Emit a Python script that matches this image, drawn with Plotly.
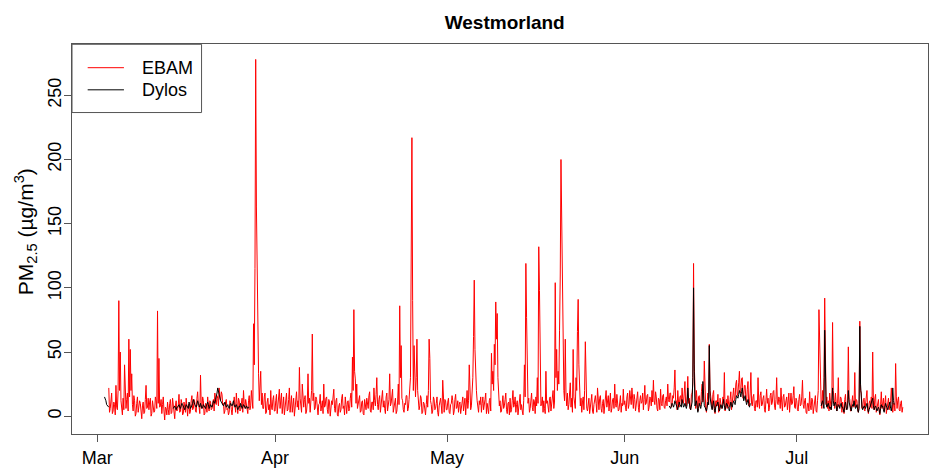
import pandas as pd
import plotly.graph_objects as go

# ---------------- data ----------------
month_labels = ["Mar", "Apr", "May", "Jun", "Jul"]
month_starts = ["2015-03-01", "2015-04-01", "2015-05-01", "2015-06-01", "2015-07-01"]
y_ticks = [0, 50, 100, 150, 200, 250]

# EBAM PM2.5, 3-hourly (8 values per day), starting 3 March 00:00
ebam_start = "2015-03-03 00:00"
ebam_mar = [
    22, 3, 6, 14, 18, 2, 4, 11,
    9, 1, 24, 7, 5, 20, 90, 20,
    50, 12, 8, 1, 14, 5, 40, 10,
    6, 13, 18, 4, 60, 15, 52, 20,
    33, 9, 4, 16, 12, 0, 2, 10,
    15, 3, 6, 12, 10, 1, -2, 8,
    11, 2, 3, 13, 24, 6, 7, 14,
    5, 11, 14, 0, 2, 12, 9, 3,
    4, 15, 12, 6, 82, 10, 45, 7,
    8, 13, 2, 9, 15, 4, -3, 7,
    6, 1, 11, 5, 1, 10, 13, 2,
    3, 14, 9, 2, -2, 8, 12, 4,
    5, 9, 17, 3, 4, 13, 10, 1,
    2, 11, 8, 3, 14, 6, 0, 9,
    9, 2, 4, 12, 16, 5, 6, 13,
    11, 4, 3, 14, 19, 8, 7, 2,
    32, 9, 6, 15, 12, 1, 2, 10,
    8, 3, 15, 7, 4, 12, 11, 5,
    6, 10, 13, 4, 18, 11, 9, 16,
    14, 8, 22, 15, 12, 19, 17, 9,
    10, 2, 4, 11, 13, 5, 6, 1,
    3, 12, 11, 5, 1, 8, 9, 15,
    7, 3, 18, 9, 2, 14, 12, 4,
    5, 10, 14, 3, 20, 9, 6, 13,
    10, 4, 2, 12, 16, 5, 8, 20,
    10, 6, 72, 40, 115, 278, 163, 100,
    60, 33, 12, 20, 35, 9, 18, 6,
    6, 15, 18, 2, 3, 11, 14, 5,
    9, 1, 20, 7, 5, 13, 16, 4,
]
ebam_apr = [
    4, 12, 17, 2, 8, 15, 21, 6,
    11, 18, 2, 9, 15, 1, 7, 14,
    18, 4, 5, 13, 22, 3, 9, 16,
    3, 10, 14, 0, 6, 17, 19, 7,
    12, 5, 38, 14, 10, 3, 25, 8,
    7, 13, 16, 2, 4, 11, 33, 10,
    14, 3, 9, 20, 64, 12, 18, 5,
    6, 15, 13, 4, 1, 9, 10, 17,
    4, 8, 12, 2, 25, 7, 8, 14,
    15, 5, 2, 13, 11, 0, 6, 12,
    9, 16, 21, 6, 3, 12, 14, 1,
    0, 8, 10, 3, 5, 14, 17, 6,
    8, 1, 15, 9, 2, 11, 12, 4,
    6, 14, 18, 7, 46, 20, 83, 35,
    29, 10, 25, 6, 9, 15, 16, 3,
    4, 11, 12, 2, 1, 13, 10, 5,
    14, 8, 6, 16, 19, 4, 3, 11,
    11, 5, 22, 12, 8, 17, 30, 9,
    5, 13, 16, 3, 9, 14, 20, 7,
    12, 6, 2, 15, 18, 4, 7, 13,
    33, 8, 10, 17, 21, 3, 6, 12,
    14, 2, 4, 11, 25, 9, 86, 30,
    55, 14, 12, 5, 3, 10, 9, 16,
    16, 4, 6, 13, 20, 30, 124, 217,
    90, 20, 55, 40, 15, 30, 60, 20,
    10, 5, 8, 16, 14, 2, 3, 11,
    10, 4, 1, 9, 16, 7, 20, 60,
    45, 12, 9, 2, 4, 15, 13, 5,
    6, 10, 15, 3, 0, 8, 11, 14,
    8, 2, 28, 9, 3, 13, 12, 5,
]
ebam_may = [
    5, 11, 14, 3, 2, 9, 10, 16,
    12, 1, 4, 13, 17, 6, 7, 12,
    3, 9, 11, 2, 6, 14, 15, 4,
    9, 14, 1, 8, 20, 6, 12, 40,
    14, 5, 8, 20, 30, 62, 106, 52,
    30, 20, 12, 6, 3, 12, 9, 15,
    3, 10, 15, 5, 8, 13, 18, 2,
    10, 6, 2, 12, 14, 4, 49, 25,
    35, 20, 56, 40, 89, 60, 80, 30,
    14, 8, 12, 3, 4, 11, 16, 6,
    8, 13, 18, 5, 2, 10, 11, 1,
    14, 3, 5, 12, 20, 7, 9, 15,
    3, 9, 12, 1, 7, 14, 17, 5,
    9, 4, 1, 12, 40, 15, 119, 77,
    30, 10, 14, 3, 6, 12, 18, 7,
    4, 13, 11, 2, 15, 8, 30, 10,
    132, 98, 25, 8, 10, 15, 3, 12,
    6, 2, 35, 10, 12, 5, 3, 14,
    15, 4, 8, 13, 20, 6, 11, 104,
    30, 52, 20, 35, 25, 67, 110, 200,
    148, 141, 40, 20, 12, 60, 18, 8,
    18, 5, 9, 15, 26, 7, 14, 3,
    52, 15, 12, 6, 30, 20, 66, 91,
    40, 20, 8, 14, 3, 11, 15, 5,
    20, 58, 10, 6, 4, 12, 14, 2,
    7, 11, 17, 4, 2, 9, 12, 16,
    10, 3, 22, 8, 5, 14, 16, 6,
    3, 10, 13, 2, 8, 15, 20, 7,
    11, 16, 4, 9, 18, 3, 6, 13,
    14, 6, 25, 10, 7, 17, 12, 4,
    5, 12, 16, 3, 10, 8, 21, 9,
]
ebam_jun = [
    12, 7, 4, 15, 18, 6, 9, 20,
    15, 9, 22, 11, 6, 17, 13, 4,
    8, 14, 19, 7, 3, 12, 16, 10,
    11, 18, 5, 13, 24, 9, 10, 16,
    17, 4, 7, 15, 14, 8, 20, 11,
    28, 12, 9, 19, 15, 6, 4, 14,
    13, 5, 21, 10, 8, 16, 17, 7,
    6, 12, 15, 8, 25, 13, 11, 18,
    18, 7, 9, 16, 14, 22, 36, 12,
    12, 5, 20, 11, 7, 15, 16, 9,
    22, 13, 10, 18, 27, 9, 8, 15,
    31, 10, 14, 6, 5, 17, 18, 25,
    119, 40, 12, 6, 20, 9, 4, 15,
    16, 8, 9, 19, 25, 11, 14, 43,
    11, 6, 3, 14, 18, 9, 56, 20,
    14, 10, 6, 17, 20, 4, 2, 12,
    12, 8, 17, 3, 5, 14, 10, 6,
    8, 15, 10, 34, 4, 11, 13, 6,
    16, 9, 7, 13, 19, 5, 10, 17,
    22, 12, 14, 25, 28, 16, 18, 26,
    35, 18, 20, 29, 30, 14, 16, 24,
    24, 13, 11, 21, 27, 8, 9, 18,
    34, 10, 8, 15, 17, 6, 4, 12,
    12, 7, 30, 11, 6, 16, 19, 8,
    9, 14, 16, 5, 3, 12, 21, 10,
    14, 4, 7, 16, 18, 9, 11, 19,
    20, 8, 5, 13, 30, 10, 9, 15,
    13, 6, 22, 11, 4, 15, 17, 7,
    8, 12, 15, 5, 11, 18, 3, 10,
    18, 9, 10, 16, 23, 7, 6, 14,
]
ebam_jul = [
    12, 5, 4, 13, 17, 8, 9, 15,
    28, 9, 6, 12, 14, 3, 2, 10,
    10, 4, 19, 8, 5, 14, 13, 2,
    7, 11, 16, 4, 3, 12, 20, 83,
    50, 15, 11, 6, 20, 9, 30, 92,
    24, 9, 15, 6, 12, 4, 18, 8,
    5, 12, 73, 20, 12, 6, 18, 9,
    4, 10, 30, 7, 8, 15, 14, 3,
    11, 6, 2, 13, 17, 5, 6, 12,
    54, 14, 13, 4, 4, 11, 16, 7,
    9, 34, 7, 13, 12, 5, 3, 10,
    74, 20, 18, 6, 6, 13, 14, 4,
    9, 15, 20, 5, 2, 10, 12, 7,
    15, 6, 50, 12, 5, 14, 17, 3,
    8, 11, 13, 4, 1, 9, 19, 6,
    11, 14, 4, 8, 16, 2, 7, 13,
    14, 5, 9, 12, 22, 6, 3, 10,
    10, 4, 41, 15, 6, 12, 15, 5,
    4, 10, 12, 3, 7,
]

# Dylos PM2.5, 3-hourly, in separate recording periods
dylos_a_start = "2015-03-02 06:00"
dylos_a = [15, 14, 12, 9, 8, 7, 7]
dylos_b_start = "2015-03-14 06:00"
dylos_b = [
    6, 7, 8, 6, 5, 7,
    7, 8, 9, 7, 6, 8, 10, 9,
    8, 6, 5, 7, 9, 8, 7, 6,
    11, 9, 6, 7, 8, 10, 13, 10,
    9, 8, 7, 9, 12, 10, 8, 7,
    10, 8, 6, 7, 9, 8, 7, 6,
    8, 10, 11, 9, 6, 7, 9, 8,
    7, 9, 12, 11, 10, 13, 15, 18,
    22, 19, 16, 14, 12, 11, 10, 9,
    8, 9, 11, 9, 7, 8, 9, 7,
    6, 8, 10, 9, 8, 10, 12, 9,
    7, 8, 9, 7, 5, 6, 8, 7,
    10, 8, 6, 7, 9, 8, 7, 6,
    8, 7, 6, 7, 7,
]
dylos_c_start = "2015-06-08 18:00"
dylos_c = [
    8, 7,
    6, 8, 10, 9, 7, 9, 12, 10,
    9, 7, 5, 8, 11, 9, 8, 7,
    13, 10, 7, 8, 10, 8, 6, 9,
    22, 14, 9, 7, 5, 8, 11, 30,
    100, 35, 8, 10, 12, 7, 3, 6,
    10, 8, 6, 9, 12, 27, 9, 8,
    7, 5, 4, 7, 11, 9, 55, 15,
    9, 7, 5, 8, 12, 6, 3, 7,
    8, 10, 11, 7, 4, 6, 9, 8,
    6, 9, 13, 8, 5, 7, 10, 9,
    8, 6, 4, 7, 11, 9, 7, 10,
    12, 10, 9, 13, 16, 15, 14, 17,
    20, 18, 15, 19, 22, 17, 12, 14,
    16, 12, 9, 11, 13, 10, 7, 9,
    10,
]
dylos_d_start = "2015-07-05 06:00"
dylos_d = [
    8, 10, 12, 9, 6, 67,
    15, 10, 7, 9, 10, 8, 6, 7,
    5, 9, 22, 12, 8, 10, 11, 8,
    4, 7, 9, 8, 6, 9, 10, 7,
    7, 5, 3, 8, 11, 7, 5, 6,
    20, 11, 8, 6, 4, 7, 9, 8,
    12, 8, 6, 7, 9, 5, 3, 6,
    70, 25, 11, 7, 5, 6, 8, 7,
    6, 8, 10, 6, 3, 5, 7, 8,
    9, 11, 14, 8, 5, 7, 8, 6,
    4, 6, 7, 5, 2, 6, 9, 7,
    8, 5, 3, 7, 10, 8, 6, 5,
    7, 9, 11, 6, 4, 9, 22, 12,
    9,
]

# ---------------- build series ----------------
ebam = ebam_mar + ebam_apr + ebam_may + ebam_jun + ebam_jul
ebam_time = pd.date_range(ebam_start, periods=len(ebam), freq="3h")

dylos_x, dylos_y = [], []
for start, vals in [(dylos_a_start, dylos_a), (dylos_b_start, dylos_b),
                    (dylos_c_start, dylos_c), (dylos_d_start, dylos_d)]:
    t = pd.date_range(start, periods=len(vals), freq="3h")
    dylos_x += list(t) + [None]
    dylos_y += list(vals) + [None]

FONT = "Liberation Sans, Arial, sans-serif"
AXC = "#555555"

fig = go.Figure()
fig.add_trace(go.Scatter(x=ebam_time, y=ebam, mode="lines", name="EBAM",
                         line=dict(color="#ff0000", width=1), showlegend=False))
fig.add_trace(go.Scatter(x=dylos_x, y=dylos_y, mode="lines", name="Dylos",
                         line=dict(color="#000000", width=1), showlegend=False,
                         connectgaps=False))

W, H = 933, 472
L, R, T, B = 72, 4, 44, 28
pw, ph = W - L - R, H - T - B


def px(x):
    return (x - L) / pw


def py(y):
    return (H - B - y) / ph


fig.update_layout(
    width=W, height=H,
    margin=dict(l=L, r=R, t=T, b=B, pad=0),
    paper_bgcolor="white", plot_bgcolor="white",
    font=dict(family=FONT, size=18, color="black"),
    title=dict(text="<b>Westmorland</b>", font=dict(size=19, family=FONT),
               x=504.7 / W, xref="container", xanchor="center",
               y=1 - 22 / H, yref="container", yanchor="middle"),
    xaxis=dict(type="date", range=["2015-02-24 14:00", "2015-07-23 21:30"],
               tickvals=month_starts, ticktext=month_labels,
               ticks="outside", ticklen=7, tickwidth=1, tickcolor=AXC,
               showline=True, linecolor=AXC, linewidth=1, mirror=True,
               showgrid=False, zeroline=False,
               tickfont=dict(size=18, family=FONT, color="black")),
    yaxis=dict(range=[-13.9, 290], tickvals=y_ticks,
               ticks="outside", ticklen=7, tickwidth=1, tickcolor=AXC,
               tickangle=-90, ticklabelstandoff=-4,
               showline=True, linecolor=AXC, linewidth=1, mirror=True,
               showgrid=False, zeroline=False,
               tickfont=dict(size=18, family=FONT, color="black")),
    showlegend=False,
)

# y-axis title
fig.add_annotation(text="PM<sub>2.5</sub> (µg/m<sup>3</sup>)", xref="paper", yref="paper",
                   x=px(25), y=py(237), xanchor="center", yanchor="middle",
                   textangle=-90, showarrow=False, font=dict(size=21, family=FONT))

# legend box
fig.add_shape(type="rect", xref="paper", yref="paper",
              x0=px(72), x1=px(201.7), y0=py(114.3), y1=py(44.3),
              line=dict(color=AXC, width=1), fillcolor="white", layer="above")
for label, color, yy in [("EBAM", "#ff0000", 68.3), ("Dylos", "#000000", 91)]:
    fig.add_shape(type="line", xref="paper", yref="paper",
                  x0=px(87.7), x1=px(124), y0=py(yy), y1=py(yy),
                  line=dict(color=color, width=1), layer="above")
    fig.add_annotation(text=label, xref="paper", yref="paper", x=px(140), y=py(yy),
                       xanchor="left", yanchor="middle", showarrow=False,
                       font=dict(size=18, family=FONT, color="black"))

fig.write_html("out.html")
